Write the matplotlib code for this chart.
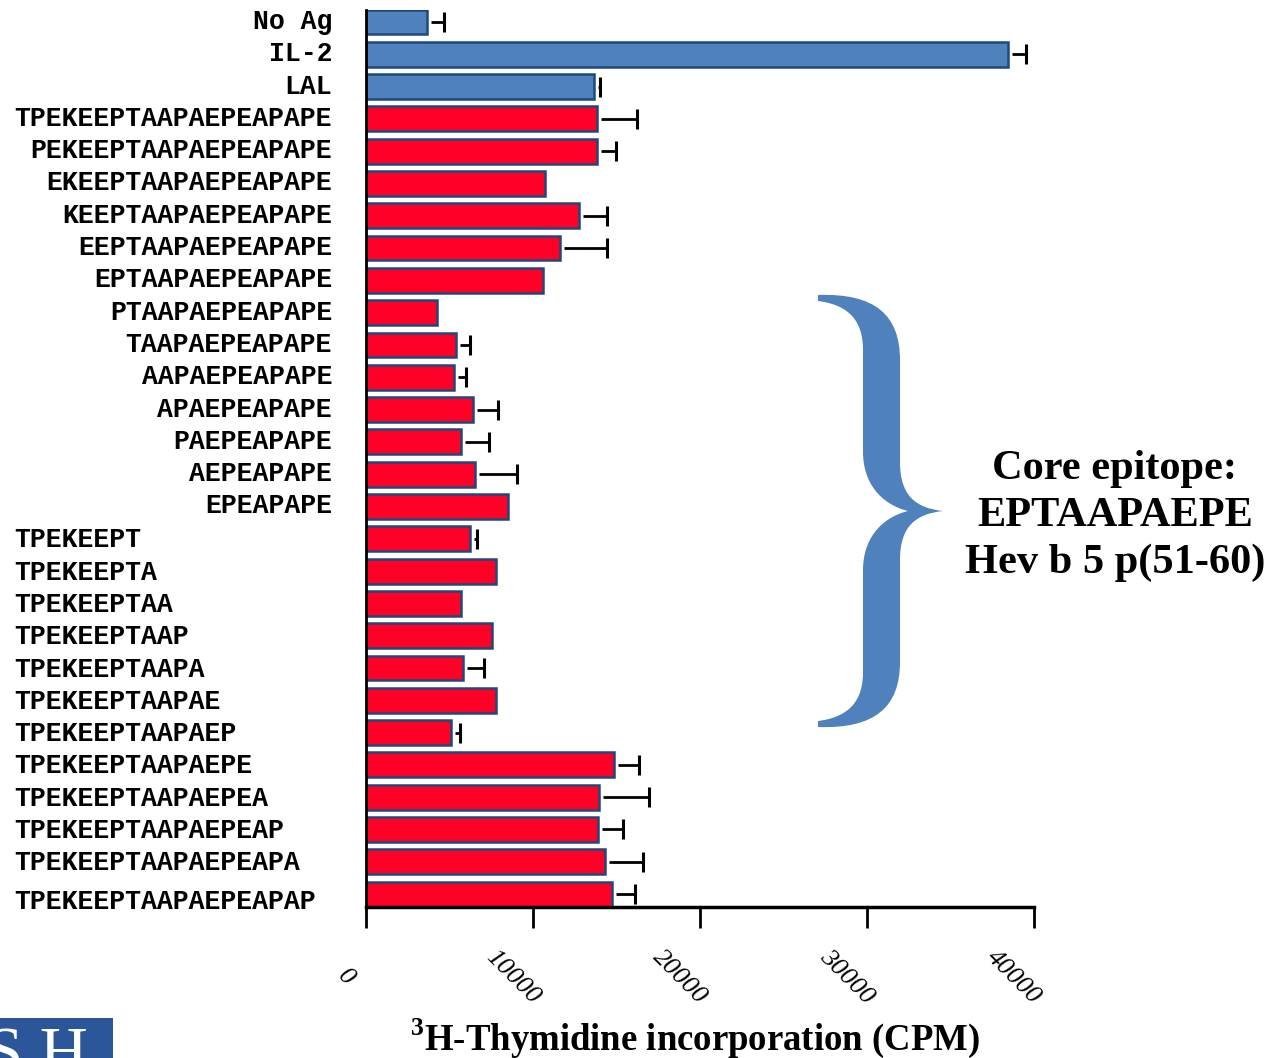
import matplotlib
matplotlib.use('Agg')
import matplotlib.pyplot as plt
import numpy as np
from matplotlib.path import Path
from matplotlib.patches import PathPatch, Rectangle
from matplotlib.transforms import blended_transform_factory, ScaledTranslation

# data
labels = ['No Ag', 'IL-2', 'LAL',
          'TPEKEEPTAAPAEPEAPAPE', 'PEKEEPTAAPAEPEAPAPE', 'EKEEPTAAPAEPEAPAPE',
          'KEEPTAAPAEPEAPAPE', 'EEPTAAPAEPEAPAPE', 'EPTAAPAEPEAPAPE',
          'PTAAPAEPEAPAPE', 'TAAPAEPEAPAPE', 'AAPAEPEAPAPE', 'APAEPEAPAPE',
          'PAEPEAPAPE', 'AEPEAPAPE', 'EPEAPAPE',
          'TPEKEEPT', 'TPEKEEPTA', 'TPEKEEPTAA', 'TPEKEEPTAAP', 'TPEKEEPTAAPA',
          'TPEKEEPTAAPAE', 'TPEKEEPTAAPAEP', 'TPEKEEPTAAPAEPE',
          'TPEKEEPTAAPAEPEA', 'TPEKEEPTAAPAEPEAP', 'TPEKEEPTAAPAEPEAPA',
          'TPEKEEPTAAPAEPEAPAP']
cpm = [3650, 38440, 13650,
       13830, 13830, 10720, 12750, 11620, 10600,
       4250, 5390, 5270, 6410, 5690, 6530, 8500,
       6230, 7780, 5690, 7540, 5810, 7780, 5090,
       14850, 13950, 13890, 14310, 14730]
err = [1000, 1080, 360,
       2400, 1140, 0, 1680, 2810, 0,
       0, 840, 720, 1500, 1680, 2510, 0,
       420, 0, 0, 0, 1260, 0, 540,
       1500, 2990, 1500, 2280, 1380]
n_controls = 3
n_truncated_n = 13  # N-terminal truncations (right aligned labels)
xticks = [0, 10000, 20000, 30000, 40000]

blue = '#4F81BD'
red = '#FF0027'
edge = '#1F497D'

plt.rcParams['font.family'] = ['Liberation Serif', 'DejaVu Serif']
plt.rcParams['mathtext.fontset'] = 'custom'
plt.rcParams['mathtext.bf'] = 'Liberation Serif:bold'
plt.rcParams['mathtext.rm'] = 'Liberation Serif'

fig = plt.figure(figsize=(12.7, 10.58), dpi=100)
W, H = 1270, 1058
ax = fig.add_axes([366 / W, 1 - 907 / H, 668 / W, 897 / H])

y = np.arange(len(labels)) * 1.0
colors = [blue] * n_controls + [red] * (len(labels) - n_controls)
ax.barh(y, cpm, height=0.77, color=colors, edgecolor=edge, linewidth=1.8, zorder=2)
e = np.array(err, dtype=float)
mask = e > 0
# error bar only on the upper side, starting a little after the bar end
start = np.array(cpm)[mask] + 250
ax.hlines(y[mask], start, np.array(cpm)[mask] + e[mask], color='black', linewidth=2, zorder=3)
ax.plot(np.array(cpm)[mask] + e[mask], y[mask], linestyle='none', marker='|',
        markersize=14, markeredgewidth=2.2, color='black', zorder=3)

ax.set_xlim(0, 40000)
ax.set_ylim(27.4, -0.37)
ax.spines['top'].set_visible(False)
ax.spines['right'].set_visible(False)
ax.spines['left'].set_linewidth(2)
ax.spines['bottom'].set_linewidth(2.5)
ax.set_yticks([])
ax.set_xticks(xticks)
ax.set_xticklabels([])
ax.tick_params(axis='x', direction='out', length=15, width=2)

# y labels
mono = dict(family='Liberation Mono', fontweight='bold', fontsize=19.1, va='center')
tr = blended_transform_factory(fig.transFigure, ax.transData)
for i, lab in enumerate(labels):
    if i < n_controls + n_truncated_n:
        ax.text(332 / W, y[i], lab, transform=tr, ha='right', **mono)
    else:
        dy = 0.25 if i == len(labels) - 1 else 0.05
        ax.text(14 / W, y[i] + dy, lab, transform=tr, ha='left', **mono)

# x tick labels, rotated
trx = blended_transform_factory(ax.transData, fig.transFigure) + ScaledTranslation(-0.2, 0, fig.dpi_scale_trans)
for t in xticks:
    ax.text(t, 1 - 977 / H, str(t), transform=trx, rotation=-45, ha='center', va='center',
            fontsize=19, fontstyle='italic', rotation_mode='anchor')

fig.text(695 / W, 1 - 1038 / H, r'$^{\mathbf{3}}$H-Thymidine incorporation (CPM)',
         ha='center', va='center', fontsize=26.5, fontweight='bold')

# brace
pts = [(818, 295), (875, 293), (900, 315), (900, 360),
       (900, 462),
       (900, 495), (915, 508), (943, 511),
       (915, 514), (900, 527), (900, 560),
       (900, 662),
       (900, 707), (875, 729), (818, 727),
       (818, 721),
       (850, 717), (863, 700), (863, 672),
       (863, 570),
       (863, 540), (880, 518), (908, 511),
       (880, 504), (863, 482), (863, 452),
       (863, 350),
       (863, 322), (850, 305), (818, 301),
       (818, 295)]
codes = [Path.MOVETO, Path.CURVE4, Path.CURVE4, Path.CURVE4,
         Path.LINETO,
         Path.CURVE4, Path.CURVE4, Path.CURVE4,
         Path.CURVE4, Path.CURVE4, Path.CURVE4,
         Path.LINETO,
         Path.CURVE4, Path.CURVE4, Path.CURVE4,
         Path.LINETO,
         Path.CURVE4, Path.CURVE4, Path.CURVE4,
         Path.LINETO,
         Path.CURVE4, Path.CURVE4, Path.CURVE4,
         Path.CURVE4, Path.CURVE4, Path.CURVE4,
         Path.LINETO,
         Path.CURVE4, Path.CURVE4, Path.CURVE4,
         Path.CLOSEPOLY]
brace = Path([(px / W, 1 - py / H) for px, py in pts], codes)
fig.patches.append(PathPatch(brace, facecolor=blue, edgecolor='none', transform=fig.transFigure))

fig.text(1115 / W, 1 - 516 / H, 'Core epitope:\nEPTAAPAEPE\nHev b 5 p(51-60)',
         ha='center', va='center', fontsize=30.5, fontweight='bold', linespacing=1.3)

# logo fragment
logo = Rectangle((0, 0), 113 / W, 40 / H, transform=fig.transFigure, facecolor='#2B579A', edgecolor='none')
fig.patches.append(logo)
t = fig.text(-14 / W, 1 - 1027 / H, 'S H', ha='left', va='top', fontsize=48, color='white')
t.set_clip_path(logo)

fig.savefig('out.png', dpi=100)
